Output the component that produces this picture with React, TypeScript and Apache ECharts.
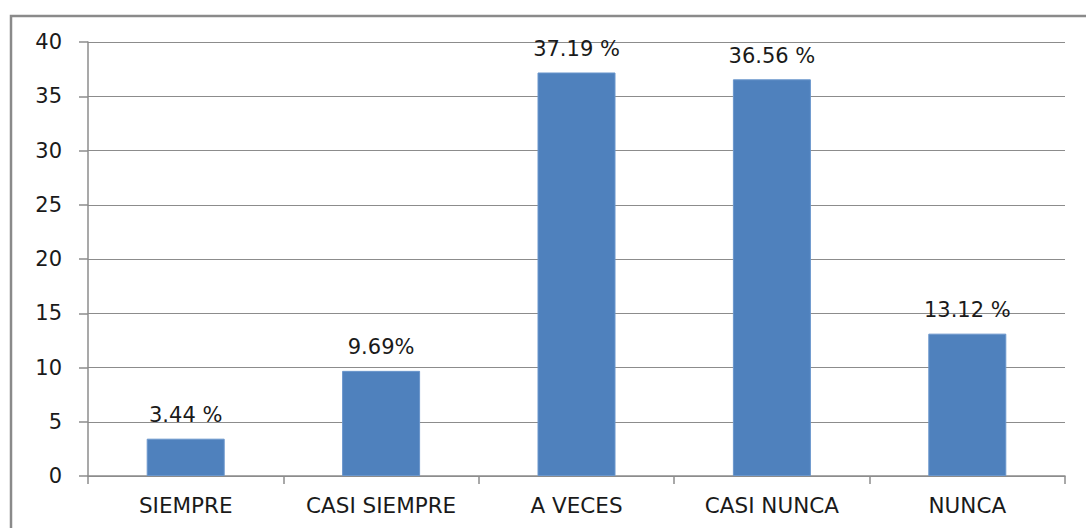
import React, { useEffect, useRef } from "react";
import * as echarts from "echarts";

const categories = ["SIEMPRE", "CASI SIEMPRE", "A VECES", "CASI NUNCA", "NUNCA"];
const values = [3.44, 9.69, 37.19, 36.56, 13.12];
const valueLabels = ["3.44 %", "9.69%", "37.19 %", "36.56 %", "13.12 %"];

export default function App() {
  const ref = useRef<HTMLDivElement>(null);
  useEffect(() => {
    document.body.style.margin = "0";
    const chart = echarts.init(ref.current!, null, { renderer: "svg" });
    chart.setOption({
      animation: false,
      backgroundColor: "#ffffff",
      textStyle: { fontFamily: "DejaVu Sans, sans-serif" },
      graphic: [
        {
          type: "rect",
          shape: { x: 11, y: 16, width: 1090, height: 530 },
          style: { fill: "none", stroke: "#8a8a8a", lineWidth: 2.5 },
          silent: true,
        },
      ],
      grid: { left: 88, right: 21, top: 42, bottom: 52 },
      xAxis: {
        type: "category",
        data: categories,
        axisLine: { lineStyle: { color: "#8c8c8c", width: 1.5 } },
        axisTick: { show: true, length: 8, lineStyle: { color: "#8c8c8c", width: 1.5 } },
        axisLabel: { color: "#1a1a1a", fontSize: 21.5, margin: 18 },
      },
      yAxis: {
        type: "value",
        min: 0,
        max: 40,
        interval: 5,
        axisLine: { show: true, lineStyle: { color: "#8c8c8c", width: 1.5 } },
        axisTick: { show: true, length: 9, lineStyle: { color: "#8c8c8c", width: 1.5 } },
        axisLabel: { color: "#1a1a1a", fontSize: 21, margin: 26 },
        splitLine: { lineStyle: { color: "#8c8c8c", width: 1.2 } },
      },
      series: [
        {
          type: "bar",
          data: values,
          barWidth: 78,
          itemStyle: { color: "#4F81BD", borderColor: "#6a96cc", borderWidth: 1 },
          label: {
            show: true,
            position: "top",
            distance: 13,
            color: "#1a1a1a",
            fontSize: 21,
            formatter: (p: any) => valueLabels[p.dataIndex],
          },
        },
      ],
    });
    return () => chart.dispose();
  }, []);
  return <div ref={ref} style={{ position: "fixed", left: 0, top: 0, width: 1086, height: 528 }} />;
}
